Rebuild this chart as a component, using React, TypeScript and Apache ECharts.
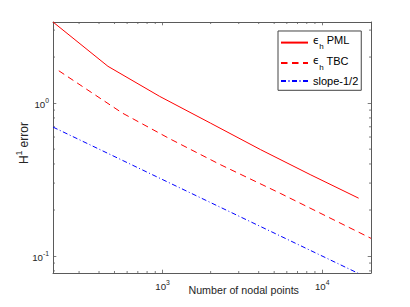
import React, { useEffect, useRef } from "react";
import * as echarts from "echarts";

// ---- data ----
const pmlN = [206, 455, 960, 2000, 4100, 8400, 16900];
const pmlErr = [3.39, 1.74, 1.106, 0.739, 0.497, 0.341, 0.239];
const tbcN = [224, 561, 1111, 2289, 5449, 20200];
const tbcErr = [1.627, 0.86, 0.584, 0.397, 0.2574, 0.1306];
const slopeN = [206, 16900];
const slopeErr = [0.697, 0.0769];

const xRange = [206, 20200];
const yRange = [0.0775, 3.39];
const xMinorTicks = [300, 400, 500, 600, 700, 800, 900, 2000, 3000, 4000, 5000, 6000, 7000, 8000, 9000];
const yMinorTicks = [0.08, 0.09, 0.2, 0.3, 0.4, 0.5, 0.6, 0.7, 0.8, 0.9, 2, 3];

const seriesNames = ["pml", "tbc", "slope"];
const legendLabels: Record<string, string> = {
  pml: "{e|ϵ}{sub|h}{t| PML}",
  tbc: "{e|ϵ}{sub|h}{t| TBC}",
  slope: "{t|slope-1/2}",
};

const FONT = "'Liberation Sans', Arial, sans-serif";
const AXIS_COLOR = "#5a5a5a";
const TEXT_COLOR = "#262626";

const zip = (a: number[], b: number[]) => a.map((v, i) => [v, b[i]]);

const powLabel = (v: number) => {
  const l = Math.log10(v);
  const r = Math.round(l);
  if (Math.abs(l - r) < 1e-6) return `{b|10}{sup|${r}}`;
  return "";
};

const tickRich = {
  b: { fontSize: 9.7, height: 10, lineHeight: 12, verticalAlign: "bottom", color: TEXT_COLOR, fontFamily: FONT },
  sup: { fontSize: 6.8, height: 7, lineHeight: 7, verticalAlign: "top", color: TEXT_COLOR, fontFamily: FONT },
};

export default function App() {
  const ref = useRef<HTMLDivElement>(null);
  useEffect(() => {
    if (!ref.current) return;
    const chart = echarts.init(ref.current, undefined, { renderer: "svg" });

    const minorRender = (isX: boolean) => (params: any, api: any) => {
      const cs = params.coordSys;
      const p = api.coord([api.value(0), api.value(1)]);
      const len = 2;
      const style = { stroke: AXIS_COLOR, lineWidth: 0.8 };
      if (isX) {
        return {
          type: "group",
          children: [
            { type: "line", shape: { x1: p[0], y1: cs.y + cs.height, x2: p[0], y2: cs.y + cs.height - len }, style },
            { type: "line", shape: { x1: p[0], y1: cs.y, x2: p[0], y2: cs.y + len }, style },
          ],
        };
      }
      return {
        type: "group",
        children: [
          { type: "line", shape: { x1: cs.x, y1: p[1], x2: cs.x + len, y2: p[1] }, style },
          { type: "line", shape: { x1: cs.x + cs.width, y1: p[1], x2: cs.x + cs.width - len, y2: p[1] }, style },
        ],
      };
    };

    const axisCommon = {
      type: "log" as const,
      logBase: 10,
      axisLine: { show: true, lineStyle: { color: AXIS_COLOR, width: 1 } },
      axisTick: { show: true, inside: true, length: 3.3, lineStyle: { color: AXIS_COLOR, width: 0.8 } },
      splitLine: { show: false },
      minorTick: { show: false },
    };

    chart.setOption({
      animation: false,
      backgroundColor: "#ffffff",
      grid: { left: 53, top: 22, width: 318, height: 251, containLabel: false },
      xAxis: [
        {
          ...axisCommon,
          position: "bottom",
          min: xRange[0],
          max: xRange[1],
          axisLabel: {
            show: true,
            margin: 6,
            formatter: powLabel,
            rich: tickRich,
            showMinLabel: true,
            showMaxLabel: true,
          },
        },
        {
          ...axisCommon,
          position: "top",
          min: xRange[0],
          max: xRange[1],
          axisLabel: { show: false },
        },
      ],
      yAxis: [
        {
          ...axisCommon,
          position: "left",
          min: yRange[0],
          max: yRange[1],
          axisLabel: {
            show: true,
            margin: 4,
            formatter: powLabel,
            rich: tickRich,
          },
        },
        {
          ...axisCommon,
          position: "right",
          min: yRange[0],
          max: yRange[1],
          axisLabel: { show: false },
        },
      ],
      legend: {
        orient: "vertical",
        left: 278,
        top: 31,
        padding: [3.6, 3, 3.9, 2],
        itemWidth: 27,
        itemHeight: 1,
        itemGap: 4.4,
        borderColor: "#444",
        borderWidth: 1,
        backgroundColor: "#ffffff",
        itemStyle: { color: "rgba(0,0,0,0)", borderWidth: 0, opacity: 0 },
        data: seriesNames,
        formatter: (name: string) => legendLabels[name],
        textStyle: {
          color: "#000",
          fontFamily: FONT,
          fontSize: 11,
          rich: {
            e: { fontSize: 10, height: 11, lineHeight: 11, verticalAlign: "top", fontFamily: "'DejaVu Sans', sans-serif", color: "#000" },
            t: { fontSize: 11, height: 11, lineHeight: 11, verticalAlign: "top", fontFamily: FONT, color: "#000" },
            sub: { fontSize: 8, height: 8, lineHeight: 16, verticalAlign: "bottom", fontFamily: FONT, color: "#000" },
          },
        },
      },
      graphic: [
        {
          type: "text",
          x: 243.7,
          y: 290,
          style: {
            text: "Number of nodal points",
            fill: TEXT_COLOR,
            font: `10.7px ${FONT}`,
            align: "center",
            verticalAlign: "middle",
          },
        },
        {
          type: "text",
          x: 22.7,
          y: 143,
          rotation: Math.PI / 2,
          style: {
            text: "{m|H}{s|1}{m| error}",
            fill: TEXT_COLOR,
            align: "center",
            verticalAlign: "middle",
            rich: {
              m: { fontSize: 12, height: 13, lineHeight: 16, verticalAlign: "bottom", fontFamily: FONT, fill: TEXT_COLOR },
              s: { fontSize: 8.2, height: 9, lineHeight: 9, verticalAlign: "top", fontFamily: FONT, fill: TEXT_COLOR },
            },
          },
        },
      ],
      series: [
        {
          name: "pml",
          type: "line",
          data: zip(pmlN, pmlErr),
          symbol: "none",
          lineStyle: { color: "#ff0000", width: 1, type: "solid" },
          itemStyle: { color: "#ff0000" },
        },
        {
          name: "tbc",
          type: "line",
          data: zip(tbcN, tbcErr),
          symbol: "none",
          lineStyle: { color: "#ff0000", width: 1, type: [6.5, 4.5] },
          itemStyle: { color: "#ff0000" },
        },
        {
          name: "slope",
          type: "line",
          data: zip(slopeN, slopeErr),
          symbol: "none",
          lineStyle: { color: "#0000ff", width: 1, type: [5, 2.5, 1, 2.5] },
          itemStyle: { color: "#0000ff" },
        },
        {
          name: "xminor",
          type: "custom",
          silent: true,
          data: xMinorTicks.map((v) => [v, 1]),
          renderItem: minorRender(true),
        },
        {
          name: "yminor",
          type: "custom",
          silent: true,
          data: yMinorTicks.map((v) => [1000, v]),
          renderItem: minorRender(false),
        },
      ],
    });
    return () => chart.dispose();
  }, []);
  return <div ref={ref} style={{ position: "fixed", left: 0, top: 0, width: 410, height: 307 }} />;
}
